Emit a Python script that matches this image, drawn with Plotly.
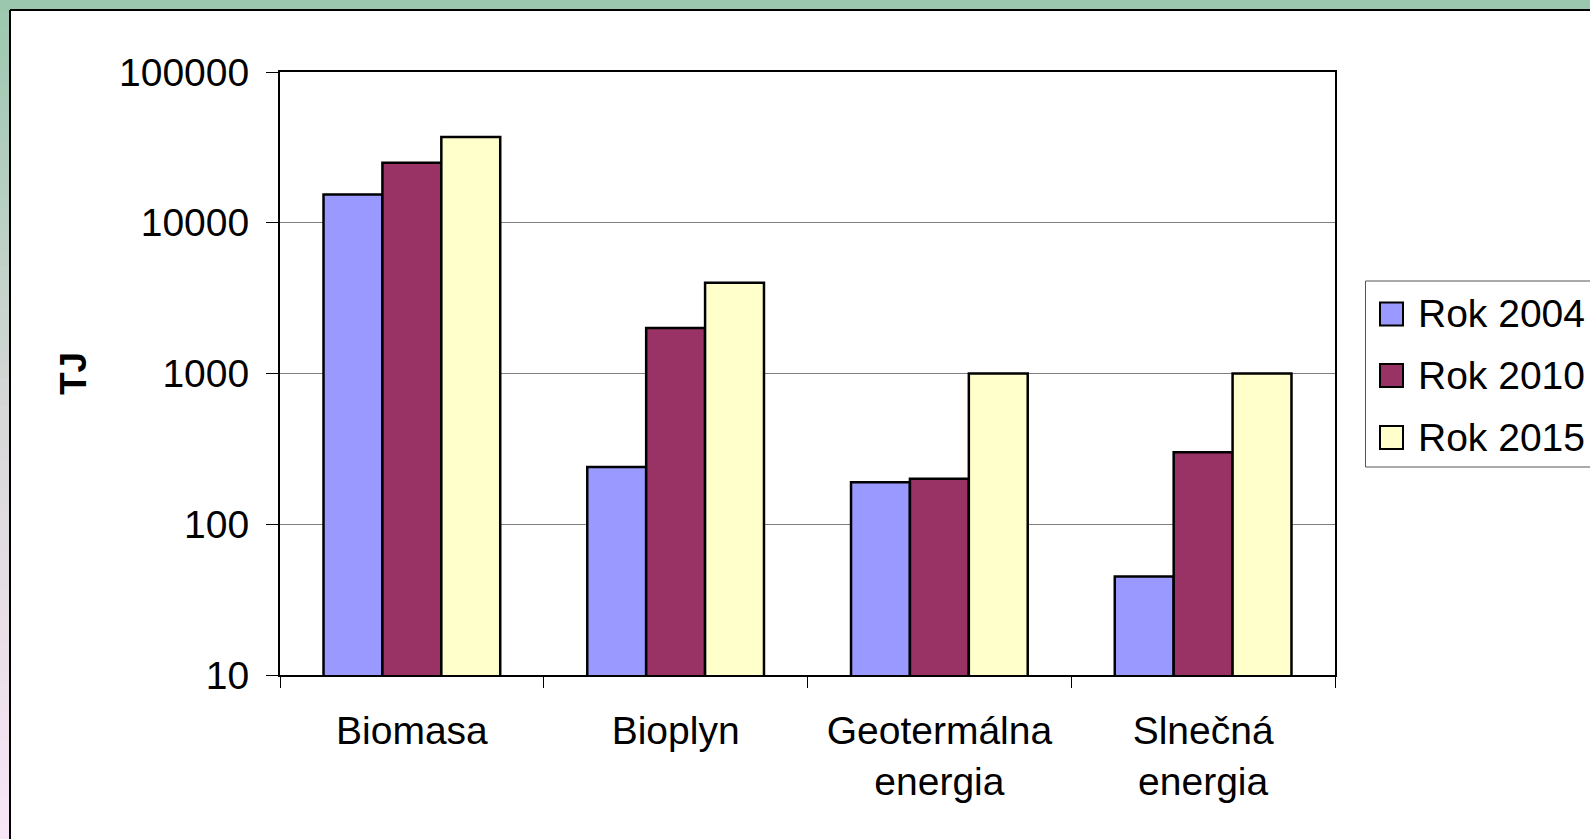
import plotly.graph_objects as go

categories = ["Biomasa", "Bioplyn", "Geotermálna<br>energia", "Slnečná<br>energia"]
series_names = ["Rok 2004", "Rok 2010", "Rok 2015"]
rok_2004 = [15400, 240, 190, 45]
rok_2010 = [25000, 2000, 200, 300]
rok_2015 = [37000, 4000, 1000, 1000]
y_tickvals = [10, 100, 1000, 10000, 100000]
y_ticktext = ["10", "100", "1000", "10000", "100000"]
y_title = "TJ"

colors = ["#9999FF", "#993366", "#FFFFCC"]
W, H = 1590, 839
FONT = "Arial, Liberation Sans, sans-serif"

def px(x):
    return x / W

def py(y):
    return 1 - y / H

fig = go.Figure()
for name, vals, c in zip(series_names, [rok_2004, rok_2010, rok_2015], colors):
    fig.add_trace(go.Bar(x=categories, y=vals, name=name, marker=dict(color=c, line=dict(color="black", width=2.5)),
                         showlegend=False))

shapes = []
stops = [(0.0, (155, 199, 175)), (0.5, (216, 216, 216)), (1.0, (249, 230, 247))]
N = 60
for i in range(N):
    t = (i + 0.5) / N
    if t <= 0.5:
        a, b, f = stops[0][1], stops[1][1], t / 0.5
    else:
        a, b, f = stops[1][1], stops[2][1], (t - 0.5) / 0.5
    col = "rgb(%d,%d,%d)" % tuple(round(a[k] + (b[k] - a[k]) * f) for k in range(3))
    y0 = i * H / N
    y1 = (i + 1) * H / N + 1
    shapes.append(dict(type="rect", xref="paper", yref="paper", x0=px(0), x1=px(10), y0=py(y1), y1=py(y0),
                       fillcolor=col, line=dict(width=0), layer="below"))
shapes.append(dict(type="rect", xref="paper", yref="paper", x0=0, x1=1, y0=py(10), y1=1,
                   fillcolor="#9BC7AF", line=dict(width=0), layer="below"))
shapes.append(dict(type="line", xref="paper", yref="paper", x0=px(10), x1=1, y0=py(10), y1=py(10),
                   line=dict(color="black", width=2)))
shapes.append(dict(type="line", xref="paper", yref="paper", x0=px(10), x1=px(10), y0=py(10), y1=0,
                   line=dict(color="black", width=2)))
shapes.append(dict(type="rect", xref="paper", yref="paper", x0=px(1365.5), x1=px(1600), y0=py(467), y1=py(281),
                   fillcolor="white", line=dict(color="#555555", width=1)))
annotations = []
row_y = [314, 375.5, 437.5]
for name, c, yy in zip(series_names, colors, row_y):
    shapes.append(dict(type="rect", xref="paper", yref="paper", x0=px(1380), x1=px(1403), y0=py(yy + 11.5), y1=py(yy - 11.5),
                       fillcolor=c, line=dict(color="black", width=2)))
    annotations.append(dict(text=name, x=px(1416), y=py(yy), xref="paper", yref="paper", xanchor="left", yanchor="middle",
                            showarrow=False, font=dict(family=FONT, size=39, color="black")))
annotations.append(dict(text="<b>" + y_title + "</b>", x=px(73), y=py(374), xref="paper", yref="paper", textangle=-90,
                        xanchor="center", yanchor="middle", showarrow=False, font=dict(family=FONT, size=37, color="black")))

fig.update_layout(
    width=W, height=H, autosize=False,
    margin=dict(l=0, r=0, t=0, b=0, pad=0, autoexpand=False),
    paper_bgcolor="white", plot_bgcolor="white",
    barmode="group", bargap=0.33, bargroupgap=0,
    font=dict(family=FONT, size=39, color="black"),
    shapes=shapes, annotations=annotations,
    xaxis=dict(domain=[px(280), px(1335)], type="category", tickson="boundaries", ticks="outside", ticklen=11,
               tickcolor="black", tickwidth=1, showline=True, linecolor="black", linewidth=2, mirror=True,
               showgrid=False, tickfont=dict(size=39), ticklabelstandoff=20, automargin=False),
    yaxis=dict(domain=[py(675), py(72)], type="log", range=[1, 5], tickvals=y_tickvals, ticktext=y_ticktext,
               ticks="outside", ticklen=12, tickcolor="black", tickwidth=1, showline=True, linecolor="black",
               linewidth=2, mirror=True, showgrid=True, gridcolor="#808080", gridwidth=1,
               tickfont=dict(size=39), ticklabelstandoff=9, zeroline=False, automargin=False),
)

fig.write_html("out.html", config={"displayModeBar": False}, post_script="document.body.style.margin='0';")
